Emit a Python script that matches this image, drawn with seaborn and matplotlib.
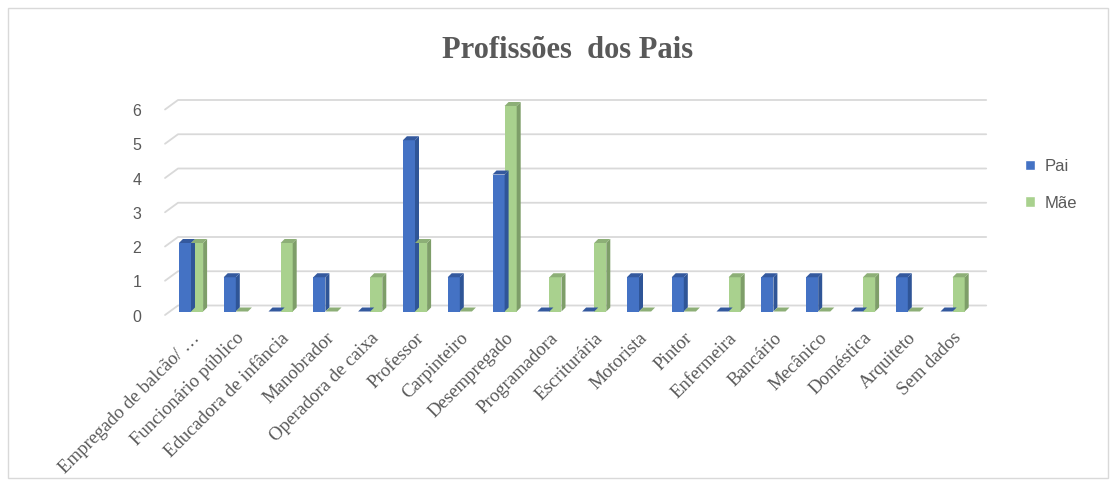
import numpy as np
import pandas as pd
import matplotlib
matplotlib.use("Agg")
import matplotlib.pyplot as plt
from matplotlib.patches import Polygon, Rectangle
from matplotlib.transforms import ScaledTranslation
import seaborn as sns

categorias = ["Empregado de balcão/ …", "Funcionário público", "Educadora de infância",
              "Manobrador", "Operadora de caixa", "Professor", "Carpinteiro",
              "Desempregado", "Programadora", "Escriturária", "Motorista", "Pintor",
              "Enfermeira", "Bancário", "Mecânico", "Doméstica", "Arquiteto", "Sem dados"]
pai = [2, 1, 0, 1, 0, 5, 1, 4, 0, 0, 1, 1, 0, 1, 1, 0, 1, 0]
mae = [2, 0, 2, 0, 1, 2, 0, 6, 1, 2, 0, 0, 1, 0, 0, 1, 0, 1]
series = ["Pai", "Mãe"]
yticks = [0, 1, 2, 3, 4, 5, 6]

FRONT = {"Pai": "#4472C4", "Mãe": "#A9D18E"}
SIDE = {"Pai": "#2F5597", "Mãe": "#7E9E69"}
TOP = {"Pai": "#34599E", "Mãe": "#8DAF77"}
GREY = "#595959"
GRID = "#D9D9D9"

df = pd.DataFrame({
    "categoria": categorias * 2,
    "valor": pai + mae,
    "serie": ["Pai"] * len(pai) + ["Mãe"] * len(mae),
})

sns.set_style("white")
plt.rcParams["font.family"] = ["Liberation Serif", "DejaVu Serif"]

W, H = 1118, 486
cat_px, unit_px = 44.8, 34.25
x0_px, y0_px = 191, 311.5
xlim = (-0.58, 17.75)
ylim = (0, 6.2)
left = x0_px + xlim[0] * cat_px
right = x0_px + xlim[1] * cat_px
top = y0_px - ylim[1] * unit_px

fig = plt.figure(figsize=(W / 100, H / 100), dpi=100)
ax = fig.add_axes([left / W, (H - y0_px) / H, (right - left) / W, (y0_px - top) / H])

sns.barplot(data=df, x="categoria", y="valor", hue="serie", hue_order=series,
            palette=FRONT, saturation=1, width=0.54, ax=ax, legend=False, zorder=3,
            edgecolor="none", linewidth=0)

# fake 3D depth: side and top faces on every bar
dx, dy = 4 / cat_px, 4 / unit_px
for s, cont in zip(series, ax.containers):
    for patch in cont.patches:
        bx, by = patch.get_x(), patch.get_y()
        w, h = patch.get_width(), patch.get_height()
        ax.add_patch(Polygon([(bx + w, by), (bx + w + dx, by + dy), (bx + w + dx, by + h + dy), (bx + w, by + h)],
                             closed=True, facecolor=SIDE[s], edgecolor="none", zorder=3))
        ax.add_patch(Polygon([(bx, by + h), (bx + dx, by + h + dy), (bx + w + dx, by + h + dy), (bx + w, by + h)],
                             closed=True, facecolor=TOP[s], edgecolor="none", zorder=3))

ax.set_xlim(*xlim)
ax.set_ylim(*ylim)
ax.set_yticks(yticks)

# back-wall gridlines, with the slanted floor edge on the left
g_lo, g_hi, g_run = 3.5 / unit_px, 6 / unit_px, 13 / cat_px
for t in yticks:
    ax.plot([xlim[0], xlim[0] + g_run, xlim[1]], [t - g_lo, t + g_hi, t + g_hi],
            color=GRID, linewidth=1.3, zorder=1, clip_on=False)

for sp in ax.spines.values():
    sp.set_visible(False)
ax.set_xlabel("")
ax.set_ylabel("")
ax.tick_params(axis="y", length=0, pad=17, labelsize=11.5, labelcolor=GREY)
ax.tick_params(axis="x", length=0, pad=13, labelcolor=GREY)
shift = ScaledTranslation(0, -4 / 100, fig.dpi_scale_trans)
for lab in ax.get_yticklabels():
    lab.set_fontfamily(["Liberation Sans", "DejaVu Sans"])
    lab.set_transform(lab.get_transform() + shift)
ax.set_xticks(range(len(categorias)))
ax.set_xticklabels(categorias, rotation=45, ha="right", va="top", rotation_mode="anchor",
                   fontsize=13.5, color=GREY)

fig.text(0.508, 0.897, "Profissões  dos Pais", ha="center", va="center",
         fontsize=22, fontweight="bold", color=GREY)

handles = [Rectangle((0, 0), 1, 1, facecolor=FRONT[s]) for s in series]
leg = fig.legend(handles, series, loc="center left", bbox_to_anchor=(0.903, 0.62),
                 frameon=False, handlelength=0.6, handleheight=0.6, handletextpad=0.6,
                 labelspacing=1.3, prop={"family": ["Liberation Sans", "DejaVu Sans"], "size": 12})
for t in leg.get_texts():
    t.set_color(GREY)

fig.patches.append(Rectangle((8 / W, 8 / H), 1100 / W, 470 / H,
                             transform=fig.transFigure, fill=False,
                             edgecolor=GRID, linewidth=1))

fig.savefig("out.png", dpi=100, facecolor="white")
